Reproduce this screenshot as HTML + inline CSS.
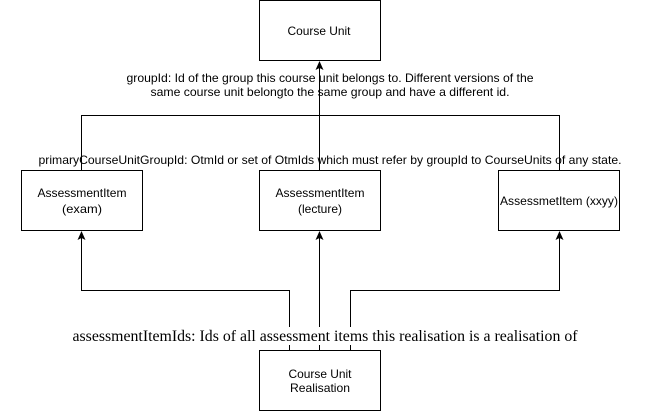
<!DOCTYPE html>
<html><head><style>
body{margin:0;background:#fff;}
svg{display:block}
.t{font-family:"Liberation Sans",Arial,sans-serif;font-size:12px;fill:#000}
</style></head><body>
<svg width="651" height="411" viewBox="0 0 651 411">
<g fill="none" stroke="#000" stroke-width="1">
<rect x="259.5" y="0.5" width="121" height="60"/>
<rect x="21.5" y="170.5" width="121" height="60"/>
<rect x="259.5" y="170.5" width="121" height="60"/>
<rect x="498.5" y="170.5" width="121" height="60"/>
<rect x="259.5" y="350.5" width="121" height="60"/>
<path d="M81.5,170 V115.5 H559.5 V170"/>
<path d="M319.5,170 V66"/>
<path d="M289.5,350 V290.5 H81.5 V238"/>
<path d="M319.5,350 V238"/>
<path d="M350.5,350 V290.5 H559.5 V238"/>
</g>
<g fill="#000">
<path d="M319.5,61 L323.5,70 L319.5,68 L315.5,70 Z"/>
<path d="M81.5,231 L85.5,240 L81.5,238 L77.5,240 Z"/>
<path d="M319.5,231 L323.5,240 L319.5,238 L315.5,240 Z"/>
<path d="M559.5,231 L563.5,240 L559.5,238 L555.5,240 Z"/>
</g>
<rect x="72" y="327" width="506" height="18" fill="#fff"/>
<g class="t" text-anchor="middle">
<text x="319" y="35" textLength="63" lengthAdjust="spacingAndGlyphs">Course Unit</text>
<text x="82" y="197" textLength="89" lengthAdjust="spacingAndGlyphs">AssessmentItem</text><text x="82" y="213" textLength="40" lengthAdjust="spacingAndGlyphs">(exam)</text>
<text x="320" y="197" textLength="89" lengthAdjust="spacingAndGlyphs">AssessmentItem</text><text x="320" y="213" textLength="44" lengthAdjust="spacingAndGlyphs">(lecture)</text>
<text x="559" y="205" textLength="118" lengthAdjust="spacingAndGlyphs">AssessmetItem (xxyy)</text>
<text x="320" y="378" textLength="63" lengthAdjust="spacingAndGlyphs">Course Unit</text><text x="320" y="392" textLength="60" lengthAdjust="spacingAndGlyphs">Realisation</text>
<text x="330" y="82" textLength="407" lengthAdjust="spacingAndGlyphs">groupId: Id of the group this course unit belongs to. Different versions of the</text>
<text x="330" y="96" textLength="359" lengthAdjust="spacingAndGlyphs">same course unit belongto the same group and have a different id.</text>
<text x="330" y="164" textLength="583" lengthAdjust="spacingAndGlyphs">primaryCourseUnitGroupId: OtmId or set of OtmIds which must refer by groupId to CourseUnits of any state.</text>
<text x="325" y="341" font-family="Liberation Serif,serif" font-size="16" textLength="505" lengthAdjust="spacingAndGlyphs">assessmentItemIds: Ids of all assessment items this realisation is a realisation of</text>
</g>
</svg>
</body></html>
